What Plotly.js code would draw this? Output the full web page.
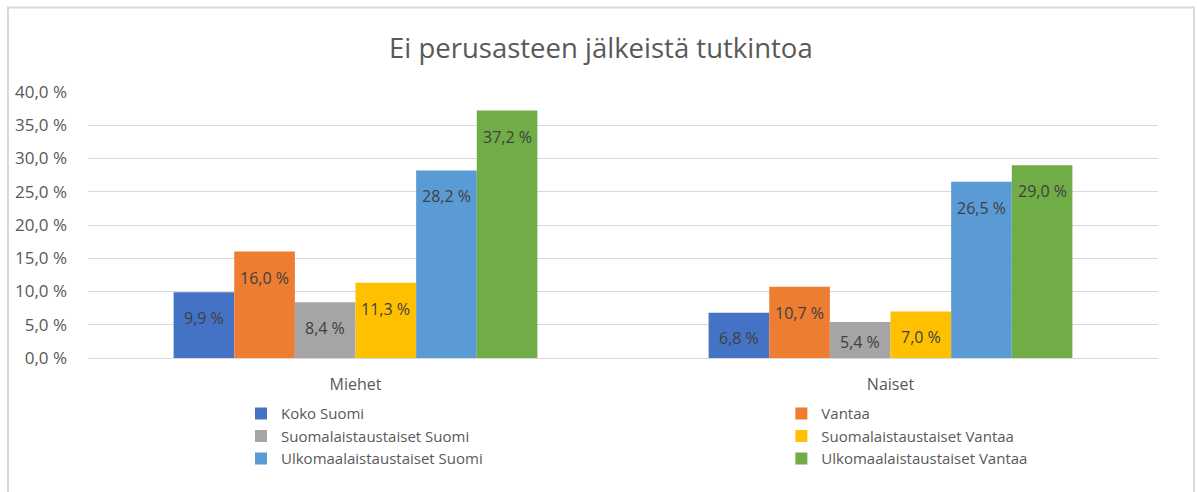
<!DOCTYPE html>
<html><head><meta charset="utf-8">
<script src="https://cdn.plot.ly/plotly-3.0.1.min.js"></script>
<style>html,body{margin:0;padding:0;background:#fff;}#chart{width:1197px;height:492px;}</style>
</head><body><div id="chart"></div>
<script>
const categories = ["Miehet", "Naiset"];
const seriesNames = ["Koko Suomi", "Vantaa", "Suomalaistaustaiset Suomi", "Suomalaistaustaiset Vantaa", "Ulkomaalaistaustaiset Suomi", "Ulkomaalaistaustaiset Vantaa"];
const kokoSuomi = [9.9, 6.8];
const vantaa = [16.0, 10.7];
const suomalaisSuomi = [8.4, 5.4];
const suomalaisVantaa = [11.3, 7.0];
const ulkomaalaisSuomi = [28.2, 26.5];
const ulkomaalaisVantaa = [37.2, 29.0];
const yTicks = [0, 5, 10, 15, 20, 25, 30, 35, 40];
const yTickLabels = ["0,0 %", "5,0 %", "10,0 %", "15,0 %", "20,0 %", "25,0 %", "30,0 %", "35,0 %", "40,0 %"];

const seriesValues = [kokoSuomi, vantaa, suomalaisSuomi, suomalaisVantaa, ulkomaalaisSuomi, ulkomaalaisVantaa];
const colors = ["#4472C4", "#ED7D31", "#A5A5A5", "#FFC000", "#5B9BD5", "#70AD47"];
const fmt = v => v.toFixed(1).replace('.', ',') + ' %';
const FONT = "Open Sans, Noto Sans, sans-serif";

const W = 1197, H = 492;
const M = {l: 88, r: 39, t: 92, b: 134};
const Y_RANGE = [0, 40];
const BARGAP = 0.32;
const LABEL_SIZE = 16;

const traces = seriesValues.map((vals, i) => ({
  type: 'bar',
  name: seriesNames[i],
  x: categories,
  y: vals,
  marker: {color: colors[i], line: {width: 0}},
  legend: (i % 2 === 0) ? 'legend' : 'legend2',
  hoverinfo: 'none'
}));

// data labels ("inside end"), positioned via axis coordinates
const pxPerUnit = (H - M.t - M.b) / (Y_RANGE[1] - Y_RANGE[0]);
const nS = seriesValues.length;
const bw = (1 - BARGAP) / nS;
const annotations = [];
seriesValues.forEach((vals, i) => {
  vals.forEach((v, c) => {
    const barPx = v * pxPerUnit;
    const textH = LABEL_SIZE * 1.35;
    const pad = Math.min(13, Math.max(0, (barPx - textH) / 2));
    annotations.push({
      xref: 'x', yref: 'y',
      x: c - (1 - BARGAP) / 2 + (i + 0.5) * bw,
      y: v,
      text: fmt(v),
      showarrow: false,
      xanchor: 'center', yanchor: 'top',
      yshift: -pad,
      font: {family: FONT, size: LABEL_SIZE, color: '#404040'}
    });
  });
});

const legendCommon = {
  orientation: 'v',
  xref: 'paper', yref: 'paper',
  xanchor: 'left', yanchor: 'top',
  font: {family: FONT, size: 15, color: '#595959'},
  bgcolor: 'rgba(0,0,0,0)',
  itemwidth: 30,
  tracegroupgap: 0,
  traceorder: 'normal'
};

const layout = {
  width: W, height: H,
  margin: M,
  paper_bgcolor: '#fff', plot_bgcolor: '#fff',
  title: {text: 'Ei perusasteen jälkeistä tutkintoa', x: 0.502, xanchor: 'center', y: 0.902, yanchor: 'middle',
          font: {family: FONT, size: 27.5, color: '#595959'}},
  bargap: BARGAP, bargroupgap: 0,
  barmode: 'group',
  showlegend: true,
  legend: Object.assign({}, legendCommon, {x: 0.143, y: -0.148}),
  legend2: Object.assign({}, legendCommon, {x: 0.648, y: -0.148}),
  xaxis: {
    type: 'category',
    tickfont: {family: FONT, size: 16, color: '#595959'},
    showline: true, linecolor: '#d9d9d9', linewidth: 1,
    ticks: '', showgrid: false, fixedrange: true,
    ticklabelstandoff: 12
  },
  yaxis: {
    range: Y_RANGE,
    tickvals: yTicks, ticktext: yTickLabels,
    tickfont: {family: FONT, size: 17, color: '#595959'},
    showgrid: true, gridcolor: '#d9d9d9', gridwidth: 1,
    zeroline: false, showline: false, ticks: '', ticklen: 0,
    ticklabelstandoff: 20,
    fixedrange: true
  },
  annotations: annotations,
  shapes: [{type: 'rect', xref: 'paper', yref: 'paper', x0: -0.0748, x1: 1.0336, y0: -0.6, y1: 1.318,
            line: {color: '#d9d9d9', width: 2}, fillcolor: 'rgba(0,0,0,0)', layer: 'below'}]
};

Plotly.newPlot('chart', traces, layout, {displayModeBar: false, staticPlot: true});
</script></body></html>
